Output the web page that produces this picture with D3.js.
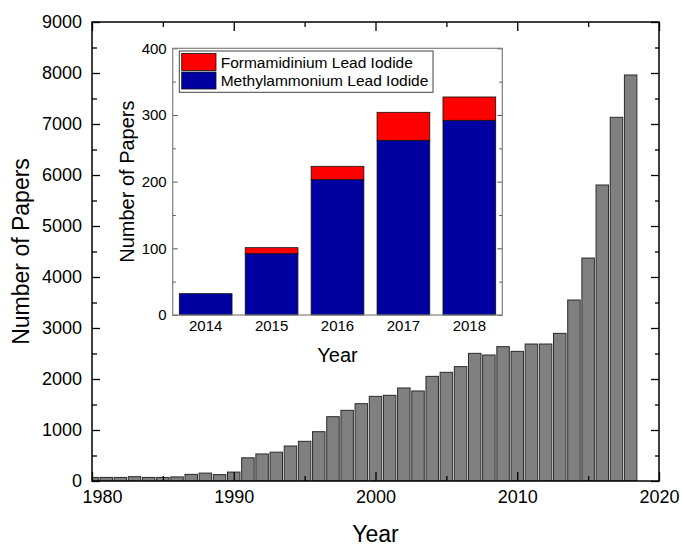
<!DOCTYPE html>
<html>
<head>
<meta charset="utf-8">
<script src="https://cdn.jsdelivr.net/npm/d3@7"></script>
<style>
  html, body { margin: 0; padding: 0; background: #fff; }
  svg { display: block; font-family: Arial, "Liberation Sans", sans-serif; }
</style>
</head>
<body>
<svg id="chart" width="682" height="545"></svg>
<script>
// ---- main chart data ----
const years = d3.range(1980, 2019);
const papers = [70, 70, 70, 85, 70, 70, 80, 130, 155, 125,
                175, 455, 530, 565, 686, 778, 967, 1261, 1386, 1516,
                1660, 1680, 1824, 1765, 2052, 2131, 2242, 2503, 2471, 2634,
                2542, 2686, 2686, 2895, 3549, 4372, 5804, 7131, 7961];
const xMajorTicks = [1980, 1990, 2000, 2010, 2020];
const xMinorTicks = [1985, 1995, 2005, 2015];
const yMajorTicks = [0, 1000, 2000, 3000, 4000, 5000, 6000, 7000, 8000, 9000];
const yMinorTicks = [500, 1500, 2500, 3500, 4500, 5500, 6500, 7500, 8500];

// ---- inset data ----
const insetYears = ["2014", "2015", "2016", "2017", "2018"];
const maPbI3 = [32, 92, 203, 262, 292];
const faPbI3 = [0, 9, 20, 42, 35];
const seriesNames = ["Formamidinium Lead Iodide", "Methylammonium Lead Iodide"];
const seriesColors = ["#ff0000", "#0000a0"];
const insetMajorTicks = [0, 100, 200, 300, 400];
const insetMinorTicks = [50, 150, 250, 350];

const svg = d3.select("#chart");

// ================= MAIN =================
const L = 92, R = 659, T = 22, B = 481;
const x = d3.scaleLinear().domain([1980, 2020]).range([L, R]);
const y = d3.scaleLinear().domain([0, 9000]).range([B, T]);
const step = x(1981) - x(1980);
const bw = step * 0.88;

svg.append("defs").append("clipPath").attr("id", "mainClip")
  .append("rect").attr("x", L).attr("y", T).attr("width", R - L).attr("height", B - T);

svg.append("g").attr("clip-path", "url(#mainClip)")
  .selectAll("rect").data(years).join("rect")
  .attr("x", d => x(d) - bw / 2)
  .attr("width", bw)
  .attr("y", (d, i) => y(papers[i]))
  .attr("height", (d, i) => y(0) - y(papers[i]))
  .attr("fill", "#808080")
  .attr("stroke", "#2a2a2a")
  .attr("stroke-width", 1);

function styleAxis(g, fs) {
  g.select(".domain").remove();
  g.selectAll(".tick line").attr("stroke", "#000").attr("stroke-width", 1.3);
  g.selectAll(".tick text").attr("font-size", fs).attr("fill", "#000")
    .attr("font-family", "Arial, 'Liberation Sans', sans-serif");
}

// bottom
svg.append("g").attr("transform", `translate(0,${B})`)
  .call(d3.axisBottom(x).tickValues(xMajorTicks).tickFormat(d3.format("d")).tickSize(-9).tickPadding(9))
  .call(g => styleAxis(g, 18))
  .call(g => g.selectAll(".tick text").filter(d => d === 1980).attr("dx", 10));
svg.append("g").attr("transform", `translate(0,${B})`)
  .call(d3.axisBottom(x).tickValues(xMinorTicks).tickFormat("").tickSize(-5))
  .call(g => styleAxis(g, 18));
// top
svg.append("g").attr("transform", `translate(0,${T})`)
  .call(d3.axisTop(x).tickValues(xMajorTicks).tickFormat("").tickSize(-9))
  .call(g => styleAxis(g, 18));
svg.append("g").attr("transform", `translate(0,${T})`)
  .call(d3.axisTop(x).tickValues(xMinorTicks).tickFormat("").tickSize(-5))
  .call(g => styleAxis(g, 18));
// left
svg.append("g").attr("transform", `translate(${L},0)`)
  .call(d3.axisLeft(y).tickValues(yMajorTicks).tickFormat(d3.format("d")).tickSize(-8).tickPadding(10))
  .call(g => styleAxis(g, 18));
svg.append("g").attr("transform", `translate(${L},0)`)
  .call(d3.axisLeft(y).tickValues(yMinorTicks).tickFormat("").tickSize(-5))
  .call(g => styleAxis(g, 18));
// right
svg.append("g").attr("transform", `translate(${R},0)`)
  .call(d3.axisRight(y).tickValues(yMajorTicks).tickFormat("").tickSize(-8))
  .call(g => styleAxis(g, 18));
svg.append("g").attr("transform", `translate(${R},0)`)
  .call(d3.axisRight(y).tickValues(yMinorTicks).tickFormat("").tickSize(-4))
  .call(g => styleAxis(g, 18));

svg.append("rect").attr("x", L).attr("y", T).attr("width", R - L).attr("height", B - T)
  .attr("fill", "none").attr("stroke", "#000").attr("stroke-width", 1.5);

svg.append("text").attr("x", (L + R) / 2).attr("y", 541.5)
  .attr("text-anchor", "middle").attr("font-size", 23).text("Year");
svg.append("text").attr("transform", `translate(29,${(T + B) / 2}) rotate(-90)`)
  .attr("text-anchor", "middle").attr("font-size", 23).text("Number of Papers");

// ================= INSET =================
const iL = 172.7, iR = 502.3, iT = 48.3, iB = 315;
const xi = d3.scaleBand().domain(insetYears).range([iL, iR]).paddingInner(0.2).paddingOuter(0.1);
const yi = d3.scaleLinear().domain([0, 400]).range([iB, iT]);

svg.append("rect").attr("x", iL).attr("y", iT).attr("width", iR - iL).attr("height", iB - iT)
  .attr("fill", "#fff");

const stackData = insetYears.map((yr, i) => ({ year: yr, ma: maPbI3[i], fa: faPbI3[i] }));
const stacked = d3.stack().keys(["ma", "fa"])(stackData);
const keyColor = { ma: seriesColors[1], fa: seriesColors[0] };

svg.append("g").selectAll("g").data(stacked).join("g")
  .attr("fill", d => keyColor[d.key])
  .selectAll("rect").data(d => d.filter(v => v[1] - v[0] > 0)).join("rect")
  .attr("x", d => xi(d.data.year))
  .attr("width", xi.bandwidth())
  .attr("y", d => yi(d[1]))
  .attr("height", d => yi(d[0]) - yi(d[1]))
  .attr("stroke", "#111")
  .attr("stroke-width", 0.8);

function styleInset(g, fs) {
  g.select(".domain").remove();
  g.selectAll(".tick line").attr("stroke", "#555").attr("stroke-width", 1);
  g.selectAll(".tick text").attr("font-size", fs).attr("fill", "#000")
    .attr("font-family", "Arial, 'Liberation Sans', sans-serif");
}

svg.append("g").attr("transform", `translate(0,${iB})`)
  .call(d3.axisBottom(xi).tickSize(0).tickPadding(5))
  .call(g => styleInset(g, 15));
svg.append("g").attr("transform", `translate(${iL},0)`)
  .call(d3.axisLeft(yi).tickValues(insetMajorTicks).tickSize(-5).tickPadding(6))
  .call(g => styleInset(g, 15));
svg.append("g").attr("transform", `translate(${iL},0)`)
  .call(d3.axisLeft(yi).tickValues(insetMinorTicks).tickFormat("").tickSize(-3))
  .call(g => styleInset(g, 15));
svg.append("g").attr("transform", `translate(${iR},0)`)
  .call(d3.axisRight(yi).tickValues(insetMajorTicks).tickFormat("").tickSize(-5))
  .call(g => styleInset(g, 15));
svg.append("g").attr("transform", `translate(${iR},0)`)
  .call(d3.axisRight(yi).tickValues(insetMinorTicks).tickFormat("").tickSize(-3))
  .call(g => styleInset(g, 15));

svg.append("rect").attr("x", iL).attr("y", iT).attr("width", iR - iL).attr("height", iB - iT)
  .attr("fill", "none").attr("stroke", "#808080").attr("stroke-width", 1.2);

svg.append("text").attr("x", (iL + iR) / 2).attr("y", 361.5)
  .attr("text-anchor", "middle").attr("font-size", 20).text("Year");
svg.append("text").attr("transform", `translate(134,${(iT + iB) / 2}) rotate(-90)`)
  .attr("text-anchor", "middle").attr("font-size", 20).text("Number of Papers");

// legend
const lg = svg.append("g");
lg.append("rect").attr("x", 179.3).attr("y", 51).attr("width", 253.7).attr("height", 41.3)
  .attr("fill", "#fff").attr("stroke", "#444").attr("stroke-width", 1);
const items = lg.selectAll("g.item").data(seriesNames).join("g").attr("class", "item")
  .attr("transform", (d, i) => `translate(0,${i * 18.5})`);
items.append("rect").attr("x", 181.7).attr("y", 53.5).attr("width", 34.3).attr("height", 17)
  .attr("fill", (d, i) => seriesColors[i]).attr("stroke", "#111").attr("stroke-width", 0.8);
items.append("text").attr("x", 220.7).attr("y", 67.6).attr("font-size", 15.5).text(d => d);
</script>
</body>
</html>
